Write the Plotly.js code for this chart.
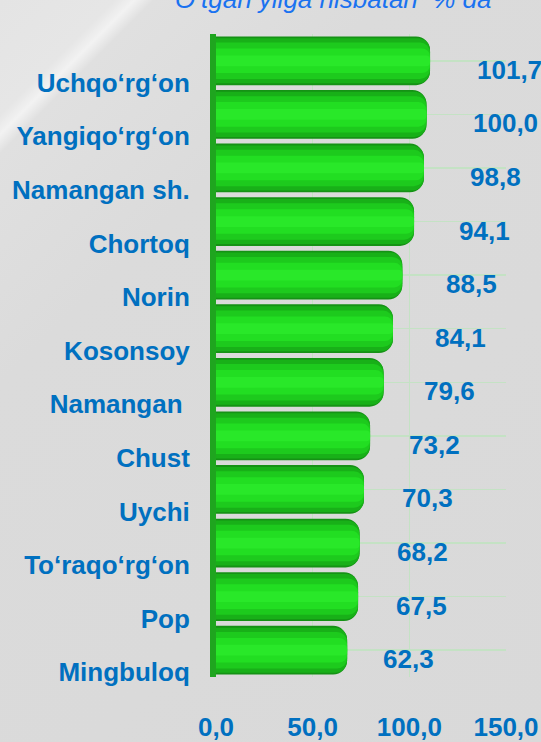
<!DOCTYPE html>
<html><head><meta charset="utf-8">
<script src="https://cdn.plot.ly/plotly-3.0.1.min.js"></script>
<style>
html,body{margin:0;padding:0;}
#chart{width:541px;height:742px;
background:linear-gradient(135deg,#e4e4e4 0%,#e6e6e6 9%,#f2f2f2 10.5%,#e0e0e0 12%,#dbdbdb 30%,#d9d9d9 100%);}
</style></head>
<body><div id="chart"></div>
<script>
const categories = ["Uchqo‘rg‘on","Yangiqo‘rg‘on","Namangan sh.","Chortoq","Norin","Kosonsoy","Namangan ","Chust","Uychi","To‘raqo‘rg‘on","Pop","Mingbuloq"];
const values = [101.7,100.0,98.8,94.1,88.5,84.1,79.6,73.2,70.3,68.2,67.5,62.3];
const valueLabels = ["101,7","100,0","98,8","94,1","88,5","84,1","79,6","73,2","70,3","68,2","67,5","62,3"];
const xTickVals = [0,50,100,150];
const xTickText = ["0,0","50,0","100,0","150,0"];
const titleText = "O‘tgan yilga nisbatan  % da";

const idx = categories.map((c,i)=>i);
const blue = "#0070C0";
const font = "Liberation Sans, Arial, sans-serif";

function layer(width,color,r){
  return {type:"bar",orientation:"h",x:values,y:idx,width:width,xaxis:"x3",
    marker:{color:color,line:{width:0},cornerradius:r},hoverinfo:"skip",showlegend:false};
}
const traces = [
  {type:"scatter",mode:"markers",x:[],y:[],xaxis:"x",yaxis:"y",showlegend:false,hoverinfo:"skip"},
  layer(0.91,"#159215",14),
  layer(0.84,"#18b018",12),
  layer(0.68,"#1dca1d",10),
  layer(0.46,"#22de22",8),
  layer(0.2,"#29e829",4)
];

const annotations = values.map((v,i)=>({
  x:v, y:i, xref:"x2", yref:"y", text:valueLabels[i], showarrow:false,
  xanchor:"left", yanchor:"middle", yshift:-9,
  font:{family:font,size:26,color:blue,weight:"bold"}
}));
annotations.push({
  x:(333-216)/290, xref:"paper", y:1, yref:"paper", xanchor:"center", yanchor:"bottom",
  text:"<i>"+titleText+"</i>", showarrow:false, yshift:18,
  font:{family:font,size:26,color:"#1a72f0"}
});

const layout = {
  width:541,height:742,
  margin:{l:216,r:35,t:34,b:65},
  paper_bgcolor:"rgba(0,0,0,0)",plot_bgcolor:"rgba(0,0,0,0)",
  barmode:"overlay",
  xaxis:{range:[0,150],tickvals:xTickVals,ticktext:xTickText,
    showgrid:true,gridcolor:"#c4e2c4",gridwidth:1.5,zeroline:false,showline:false,
    ticks:"",ticklabelstandoff:32,ticklabeloverflow:"allow",
    tickfont:{family:font,size:26,color:blue,weight:"bold"},fixedrange:true},
  xaxis2:{overlaying:"x",range:[-6.87,114.6],visible:false},
  xaxis3:{overlaying:"x",range:[0,137.8],visible:false},
  yaxis:{range:[11.5,-0.5],tickvals:idx,ticktext:categories,
    showgrid:true,gridcolor:"#c4e2c4",gridwidth:1.5,zeroline:false,
    showline:true,linecolor:"#1fa51f",linewidth:6,ticks:"",
    ticklabelstandoff:15,ticklabelshift:-22,
    tickfont:{family:font,size:26,color:blue,weight:"bold"}},
  annotations:annotations
};
Plotly.newPlot("chart",traces,layout,{displayModeBar:false,staticPlot:true});
</script></body></html>
